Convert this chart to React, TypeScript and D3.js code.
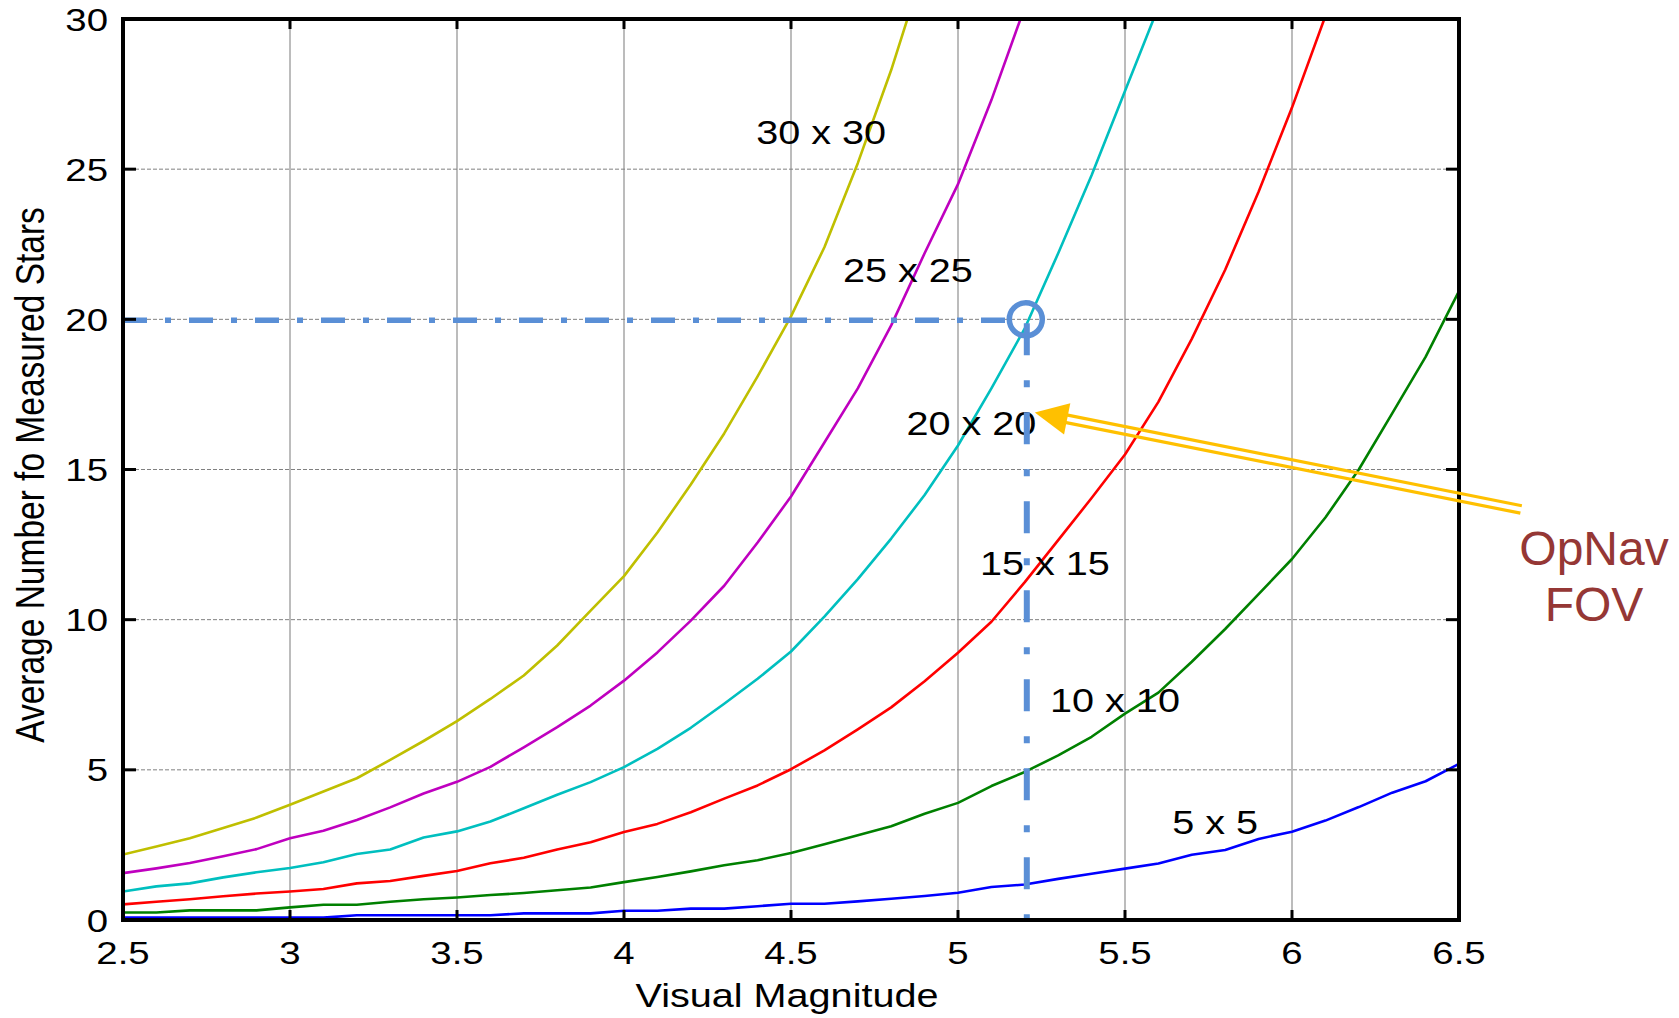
import React, { useEffect, useRef } from 'react';
import * as d3 from 'd3';

// Visual magnitude samples (x axis)
const magnitudes = [
  2.5, 2.6, 2.7, 2.8, 2.9, 3.0, 3.1, 3.2, 3.3, 3.4, 3.5, 3.6, 3.7, 3.8, 3.9, 4.0, 4.1, 4.2, 4.3, 4.4,
  4.5, 4.6, 4.7, 4.8, 4.9, 5.0, 5.1, 5.2, 5.3, 5.4, 5.5, 5.6, 5.7, 5.8, 5.9, 6.0, 6.1, 6.2, 6.3, 6.4, 6.5,
];

// Average number of measured stars per FOV size
const fov5 = [
  0.08, 0.08, 0.08, 0.08, 0.08, 0.08, 0.08, 0.16, 0.16, 0.16, 0.16, 0.16, 0.22, 0.22, 0.22, 0.31, 0.31, 0.38, 0.38, 0.46,
  0.54, 0.54, 0.62, 0.71, 0.8, 0.91, 1.1, 1.18, 1.37, 1.54, 1.71, 1.88, 2.17, 2.33, 2.7, 2.94, 3.31, 3.76, 4.24, 4.62, 5.2,
];
const fov10 = [
  0.25, 0.25, 0.32, 0.32, 0.32, 0.42, 0.51, 0.51, 0.61, 0.69, 0.75, 0.83, 0.9, 0.99, 1.08, 1.26, 1.43, 1.62, 1.82, 1.99,
  2.23, 2.52, 2.82, 3.12, 3.54, 3.9, 4.46, 4.93, 5.48, 6.1, 6.87, 7.57, 8.6, 9.69, 10.85, 12.02, 13.4, 15.0, 16.87, 18.75, 20.94,
];
const fov15 = [
  0.52, 0.61, 0.69, 0.79, 0.88, 0.95, 1.03, 1.22, 1.3, 1.47, 1.63, 1.89, 2.07, 2.35, 2.59, 2.93, 3.2, 3.59, 4.04, 4.48,
  5.02, 5.65, 6.35, 7.08, 7.95, 8.9, 9.93, 11.25, 12.65, 14.05, 15.5, 17.25, 19.35, 21.65, 24.25, 27.05, 30.1,
];
const fov20 = [
  0.95, 1.12, 1.22, 1.42, 1.59, 1.73, 1.92, 2.2, 2.35, 2.75, 2.95, 3.28, 3.72, 4.17, 4.59, 5.09, 5.7, 6.4, 7.2, 8.03,
  8.94, 10.1, 11.35, 12.7, 14.15, 15.8, 17.7, 19.7, 22.2, 24.8, 27.6, 30.4,
];
const fov25 = [
  1.56, 1.72, 1.9, 2.12, 2.36, 2.72, 2.97, 3.33, 3.75, 4.21, 4.6, 5.1, 5.75, 6.42, 7.14, 7.97, 8.91, 9.97, 11.13, 12.57,
  14.1, 15.9, 17.7, 19.8, 22.2, 24.5, 27.3, 30.4,
];
const fov30 = [
  2.18, 2.45, 2.72, 3.06, 3.41, 3.84, 4.28, 4.72, 5.33, 5.96, 6.62, 7.36, 8.14, 9.14, 10.3, 11.45, 12.9, 14.5, 16.2, 18.1,
  20.1, 22.4, 25.2, 28.3, 31.8,
];

const seriesLabels = ['5 x 5', '10 x 10', '15 x 15', '20 x 20', '25 x 25', '30 x 30'];
const seriesColors = ['#0000ff', '#008000', '#ff0000', '#00bfbf', '#bf00bf', '#bfbf00'];

const xTicks = [2.5, 3, 3.5, 4, 4.5, 5, 5.5, 6, 6.5];
const yTicks = [0, 5, 10, 15, 20, 25, 30];

// label anchors in data units: [magnitude, stars]
const labelSpots = [[5.77, 2.86], [5.47, 6.93], [5.26, 11.49], [5.04, 16.15], [4.85, 21.25], [4.59, 25.84]];

// chosen operating point and the callout arrow (data units)
const opPoint = [5.203, 20];
const arrowTip = [5.23, 16.9];
const arrowTail = [6.686, 13.67];

const App = () => {
  const chartRef = useRef<SVGSVGElement>(null);

  useEffect(() => {
    const svg = d3.select(chartRef.current);
    svg.selectAll('*').remove();

    const W = 1679;
    const H = 1018;
    const plot = { left: 123, right: 1459, top: 19, bottom: 920 };
    const font = '"Liberation Sans", Arial, Helvetica, sans-serif';
    const stretch = 1.2;

    const x = d3.scaleLinear().domain([2.5, 6.5]).range([plot.left, plot.right]);
    const y = d3.scaleLinear().domain([0, 30]).range([plot.bottom, plot.top]);

    svg.append('rect').attr('width', W).attr('height', H).attr('fill', '#fff');

    svg.append('defs').append('clipPath').attr('id', 'plot-clip')
      .append('rect')
      .attr('x', plot.left).attr('y', plot.top)
      .attr('width', plot.right - plot.left).attr('height', plot.bottom - plot.top);

    // grid
    const grid = svg.append('g');
    grid.selectAll('line.v').data(xTicks.slice(1, -1)).join('line')
      .attr('class', 'v')
      .attr('x1', d => x(d)).attr('x2', d => x(d))
      .attr('y1', plot.top).attr('y2', plot.bottom)
      .attr('stroke', '#8f8f8f').attr('stroke-width', 1.2);
    grid.selectAll('line.h').data(yTicks.slice(1, -1)).join('line')
      .attr('class', 'h')
      .attr('x1', plot.left).attr('x2', plot.right)
      .attr('y1', d => y(d)).attr('y2', d => y(d))
      .attr('stroke', '#808080').attr('stroke-width', 1)
      .attr('stroke-dasharray', '4 2');

    // curves
    const series = [fov5, fov10, fov15, fov20, fov25, fov30];
    const line = d3.line<number>()
      .x((d, i) => x(magnitudes[i]))
      .y(d => y(d));
    svg.append('g').attr('clip-path', 'url(#plot-clip)')
      .selectAll('path').data(series).join('path')
      .attr('d', d => line(d))
      .attr('fill', 'none')
      .attr('stroke', (d, i) => seriesColors[i])
      .attr('stroke-width', 2.6)
      .attr('stroke-linejoin', 'round');

    // curve labels
    svg.append('g').selectAll('g').data(seriesLabels).join('g')
      .attr('transform', (d, i) => `translate(${x(labelSpots[i][0])},${y(labelSpots[i][1])}) scale(${stretch},1)`)
      .append('text')
      .attr('text-anchor', 'middle')
      .attr('font-family', font).attr('font-size', 33).attr('fill', '#000')
      .text(d => d);

    // operating point guide lines
    const blue = '#5a8fd6';
    const px = x(opPoint[0]);
    const py = y(opPoint[1]);
    svg.append('line')
      .attr('x1', x(2.5)).attr('x2', px - 16).attr('y1', py + 1).attr('y2', py + 1)
      .attr('stroke', blue).attr('stroke-width', 5.5)
      .attr('stroke-dasharray', '24 18 6 18');
    svg.append('line')
      .attr('x1', px + 1).attr('x2', px + 1).attr('y1', py + 4).attr('y2', y(0))
      .attr('stroke', blue).attr('stroke-width', 6)
      .attr('stroke-dasharray', '32 25 7 25');
    svg.append('circle')
      .attr('cx', px).attr('cy', py).attr('r', 16.5)
      .attr('fill', 'none').attr('stroke', blue).attr('stroke-width', 5.5);

    // frame and inward ticks
    const axis = svg.append('g').attr('stroke', '#000').attr('stroke-width', 3);
    axis.selectAll('line.bt').data(xTicks).join('line')
      .attr('x1', d => x(d)).attr('x2', d => x(d))
      .attr('y1', plot.bottom).attr('y2', plot.bottom - 10);
    axis.selectAll('line.tt').data(xTicks).join('line')
      .attr('x1', d => x(d)).attr('x2', d => x(d))
      .attr('y1', plot.top).attr('y2', plot.top + 10);
    axis.selectAll('line.lt').data(yTicks).join('line')
      .attr('x1', plot.left).attr('x2', plot.left + 13)
      .attr('y1', d => y(d)).attr('y2', d => y(d));
    axis.selectAll('line.rt').data(yTicks).join('line')
      .attr('x1', plot.right).attr('x2', plot.right - 13)
      .attr('y1', d => y(d)).attr('y2', d => y(d));
    svg.append('rect')
      .attr('x', plot.left).attr('y', plot.top)
      .attr('width', plot.right - plot.left).attr('height', plot.bottom - plot.top)
      .attr('fill', 'none').attr('stroke', '#000').attr('stroke-width', 4);

    // tick labels
    svg.append('g').selectAll('g').data(xTicks).join('g')
      .attr('transform', d => `translate(${x(d)},964) scale(${stretch},1)`)
      .append('text')
      .attr('text-anchor', 'middle')
      .attr('font-family', font).attr('font-size', 32)
      .text(d => String(d));
    svg.append('g').selectAll('g').data(yTicks).join('g')
      .attr('transform', d => `translate(108,${y(d)}) scale(${stretch},1)`)
      .append('text')
      .attr('text-anchor', 'end').attr('dy', '0.36em')
      .attr('font-family', font).attr('font-size', 32)
      .text(d => String(d));

    // axis titles
    svg.append('g')
      .attr('transform', `translate(${(plot.left + plot.right) / 2 - 4},1007) scale(${stretch},1)`)
      .append('text')
      .attr('text-anchor', 'middle')
      .attr('font-family', font).attr('font-size', 33)
      .text('Visual Magnitude');
    svg.append('g')
      .attr('transform', `translate(44,475) scale(${stretch},1) rotate(-90)`)
      .append('text')
      .attr('text-anchor', 'middle')
      .attr('font-family', font).attr('font-size', 33.5)
      .text('Average Number fo Measured Stars');

    // callout arrow
    const gold = '#ffc000';
    const tip = [x(arrowTip[0]), y(arrowTip[1])];
    const tail = [x(arrowTail[0]), y(arrowTail[1])];
    const len = Math.hypot(tail[0] - tip[0], tail[1] - tip[1]);
    const u = [(tail[0] - tip[0]) / len, (tail[1] - tip[1]) / len];
    const n = [-u[1], u[0]];
    const headLen = 33;
    const headHalf = 16;
    const bc = [tip[0] + u[0] * headLen, tip[1] + u[1] * headLen];
    const arrow = svg.append('g');
    [-3.8, 3.8].forEach(off => {
      arrow.append('line')
        .attr('x1', bc[0] - u[0] * 4 + n[0] * off).attr('y1', bc[1] - u[1] * 4 + n[1] * off)
        .attr('x2', tail[0] + n[0] * off).attr('y2', tail[1] + n[1] * off)
        .attr('stroke', gold).attr('stroke-width', 3.2);
    });
    arrow.append('path')
      .attr('d', `M${tip[0]},${tip[1]} L${bc[0] + n[0] * headHalf},${bc[1] + n[1] * headHalf} L${bc[0] - n[0] * headHalf},${bc[1] - n[1] * headHalf} Z`)
      .attr('fill', gold);

    const note = svg.append('text')
      .attr('text-anchor', 'middle')
      .attr('font-family', font).attr('font-size', 48)
      .attr('fill', '#953735');
    note.append('tspan').attr('x', 1594).attr('y', 565).text('OpNav');
    note.append('tspan').attr('x', 1594).attr('y', 621).text('FOV');
  }, []);

  return (
    <svg
      ref={chartRef}
      width={1679}
      height={1018}
      style={{ position: 'absolute', left: 0, top: 0, display: 'block' }}
    />
  );
};

export default App;
